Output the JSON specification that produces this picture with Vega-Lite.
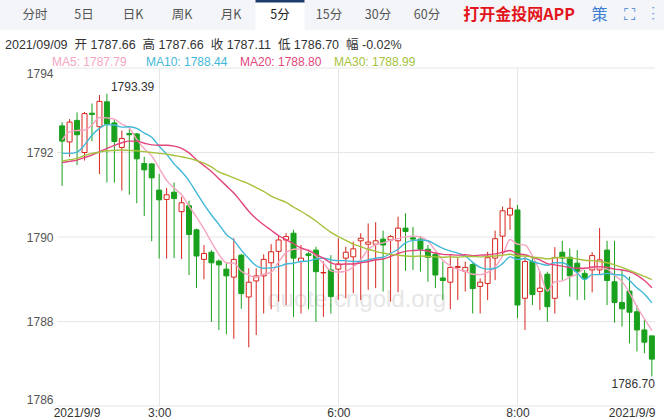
{
  "$schema": "https://vega.github.io/schema/vega-lite/v6.json",
  "padding": 0,
  "spacing": 8,
  "background": "#ffffff",
  "config": {"view": {"stroke": null}},
  "vconcat": [
    {
      "width": 664,
      "height": 30,
      "view": {"fill": "#f3f5f9", "stroke": null},
      "data": {"values": [
        {"t": "分时", "k": "tab"}, {"t": "5日", "k": "tab"}, {"t": "日K", "k": "tab"}, {"t": "周K", "k": "tab"},
        {"t": "月K", "k": "tab"}, {"t": "5分", "k": "sel"}, {"t": "15分", "k": "tab"}, {"t": "30分", "k": "tab"},
        {"t": "60分", "k": "tab"}, {"t": "打开金投网APP", "k": "app"}, {"t": "策\u3000⛶\u3000⋮", "k": "ico"}
      ]},
      "encoding": {"x": {"field": "t", "type": "nominal", "axis": null,
        "scale": {"type": "band", "domain": ["分时","5日","日K","周K","月K","5分","15分","30分","60分","_a","打开金投网APP","_b","策\u3000⛶\u3000⋮"], "paddingInner": 0, "paddingOuter": 0.2755, "align": 0.389}}},
      "layer": [
        {"transform": [{"filter": "datum.k == 'sel'"}], "mark": {"type": "rect", "fill": "#ffffff"}},
        {"transform": [{"filter": "datum.k == 'sel'"}], "mark": {"type": "rect", "fill": "#1c3c6c"},
         "encoding": {"y": {"datum": 27.5, "type": "quantitative", "scale": {"domain": [0, 30], "nice": false, "zero": false}, "axis": null}, "y2": {"datum": 30}}},
        {"transform": [{"filter": "datum.k == 'tab'"}], "mark": {"type": "text", "fontSize": 12.5, "color": "#555555", "font": "Noto Sans CJK SC"}, "encoding": {"text": {"field": "t"}}},
        {"transform": [{"filter": "datum.k == 'sel'"}], "mark": {"type": "text", "fontSize": 12.5, "color": "#222222", "font": "Noto Sans CJK SC"}, "encoding": {"text": {"field": "t"}}},
        {"transform": [{"filter": "datum.k == 'app'"}], "mark": {"type": "text", "fontSize": 16, "fontWeight": "bold", "color": "#e3151c", "font": "Noto Sans CJK SC", "dx": -6}, "encoding": {"text": {"field": "t"}}},
        {"transform": [{"filter": "datum.k == 'ico'"}], "mark": {"type": "text", "fontSize": 16, "color": "#3b7fd4", "font": "Noto Sans CJK SC", "dx": 0}, "encoding": {"text": {"field": "t"}}}
      ]
    },
    {
      "width": 660,
      "height": 338,
      "title": {"text": "2021/09/09\u00a0\u00a0开 1787.66\u00a0\u00a0高 1787.66\u00a0\u00a0收 1787.11\u00a0\u00a0低 1786.70\u00a0\u00a0幅 -0.02%", "anchor": "start", "fontSize": 12.5, "fontWeight": "normal", "color": "#333333", "font": "Liberation Sans, Noto Sans CJK SC, sans-serif", "offset": 16, "dx": 5},
      "data": {"values": [
        {"i":0,"o":1792.63,"h":1792.72,"l":1791.21,"c":1792.27,"MA5":1792.30,"MA10":1791.98,"MA20":1791.76,"MA30":1791.80},
        {"i":1,"o":1792.25,"h":1792.79,"l":1791.90,"c":1792.72,"MA5":1792.49,"MA10":1791.98,"MA20":1791.79,"MA30":1791.83},
        {"i":2,"o":1792.76,"h":1792.95,"l":1791.70,"c":1792.42,"MA5":1792.52,"MA10":1792.01,"MA20":1791.82,"MA30":1791.86},
        {"i":3,"o":1792.00,"h":1792.96,"l":1791.81,"c":1792.92,"MA5":1792.53,"MA10":1792.18,"MA20":1791.88,"MA30":1791.93},
        {"i":4,"o":1792.93,"h":1793.16,"l":1792.27,"c":1792.90,"MA5":1792.65,"MA10":1792.41,"MA20":1791.94,"MA30":1791.98},
        {"i":5,"o":1792.61,"h":1793.36,"l":1791.49,"c":1793.21,"MA5":1792.83,"MA10":1792.57,"MA20":1792.02,"MA30":1792.01},
        {"i":6,"o":1793.20,"h":1793.39,"l":1791.29,"c":1792.67,"MA5":1792.82,"MA10":1792.66,"MA20":1792.10,"MA30":1792.04},
        {"i":7,"o":1792.70,"h":1792.77,"l":1791.29,"c":1792.26,"MA5":1792.79,"MA10":1792.65,"MA20":1792.17,"MA30":1792.05},
        {"i":8,"o":1792.12,"h":1792.52,"l":1791.10,"c":1792.33,"MA5":1792.67,"MA10":1792.60,"MA20":1792.23,"MA30":1792.06},
        {"i":9,"o":1792.45,"h":1792.55,"l":1791.00,"c":1792.42,"MA5":1792.58,"MA10":1792.61,"MA20":1792.27,"MA30":1792.05},
        {"i":10,"o":1792.44,"h":1792.46,"l":1790.80,"c":1791.85,"MA5":1792.31,"MA10":1792.57,"MA20":1792.27,"MA30":1792.04},
        {"i":11,"o":1791.74,"h":1791.90,"l":1790.50,"c":1791.59,"MA5":1792.09,"MA10":1792.46,"MA20":1792.22,"MA30":1792.02},
        {"i":12,"o":1791.73,"h":1791.75,"l":1789.90,"c":1791.40,"MA5":1791.92,"MA10":1792.36,"MA20":1792.18,"MA30":1792.00},
        {"i":13,"o":1791.11,"h":1791.49,"l":1789.49,"c":1790.88,"MA5":1791.63,"MA10":1792.15,"MA20":1792.17,"MA30":1791.98},
        {"i":14,"o":1790.89,"h":1791.16,"l":1789.49,"c":1791.00,"MA5":1791.34,"MA10":1791.96,"MA20":1792.17,"MA30":1791.96},
        {"i":15,"o":1791.06,"h":1791.29,"l":1789.50,"c":1790.91,"MA5":1791.16,"MA10":1791.73,"MA20":1792.15,"MA30":1791.93},
        {"i":16,"o":1790.60,"h":1790.95,"l":1789.48,"c":1790.81,"MA5":1791.00,"MA10":1791.55,"MA20":1792.10,"MA30":1791.90},
        {"i":17,"o":1790.74,"h":1790.86,"l":1789.10,"c":1790.06,"MA5":1790.73,"MA10":1791.33,"MA20":1791.99,"MA30":1791.86},
        {"i":18,"o":1790.17,"h":1790.20,"l":1788.79,"c":1789.55,"MA5":1790.47,"MA10":1791.05,"MA20":1791.83,"MA30":1791.81},
        {"i":19,"o":1789.47,"h":1789.81,"l":1789.00,"c":1789.61,"MA5":1790.19,"MA10":1790.77,"MA20":1791.69,"MA30":1791.75},
        {"i":20,"o":1789.64,"h":1789.69,"l":1787.99,"c":1789.39,"MA5":1789.88,"MA10":1790.52,"MA20":1791.55,"MA30":1791.66},
        {"i":21,"o":1789.43,"h":1789.47,"l":1787.80,"c":1789.34,"MA5":1789.59,"MA10":1790.30,"MA20":1791.38,"MA30":1791.54},
        {"i":22,"o":1789.24,"h":1789.38,"l":1787.70,"c":1789.08,"MA5":1789.39,"MA10":1790.06,"MA20":1791.21,"MA30":1791.47},
        {"i":23,"o":1789.05,"h":1789.97,"l":1787.59,"c":1789.47,"MA5":1789.38,"MA10":1789.92,"MA20":1791.04,"MA30":1791.40},
        {"i":24,"o":1789.57,"h":1789.60,"l":1788.30,"c":1788.66,"MA5":1789.19,"MA10":1789.69,"MA20":1790.83,"MA30":1791.33},
        {"i":25,"o":1788.58,"h":1789.26,"l":1787.39,"c":1788.93,"MA5":1789.10,"MA10":1789.49,"MA20":1790.61,"MA30":1791.26},
        {"i":26,"o":1788.96,"h":1789.26,"l":1787.68,"c":1789.08,"MA5":1789.04,"MA10":1789.32,"MA20":1790.43,"MA30":1791.17},
        {"i":27,"o":1789.08,"h":1789.59,"l":1788.19,"c":1789.47,"MA5":1789.12,"MA10":1789.26,"MA20":1790.29,"MA30":1791.08},
        {"i":28,"o":1789.39,"h":1789.83,"l":1788.29,"c":1789.65,"MA5":1789.16,"MA10":1789.27,"MA20":1790.16,"MA30":1790.97},
        {"i":29,"o":1789.66,"h":1790.05,"l":1788.47,"c":1789.93,"MA5":1789.41,"MA10":1789.30,"MA20":1790.03,"MA30":1790.89},
        {"i":30,"o":1789.93,"h":1790.09,"l":1788.39,"c":1790.01,"MA5":1789.63,"MA10":1789.36,"MA20":1789.94,"MA30":1790.82},
        {"i":31,"o":1790.09,"h":1790.17,"l":1788.11,"c":1789.50,"MA5":1789.71,"MA10":1789.38,"MA20":1789.84,"MA30":1790.71},
        {"i":32,"o":1789.42,"h":1789.81,"l":1788.19,"c":1789.50,"MA5":1789.72,"MA10":1789.42,"MA20":1789.74,"MA30":1790.61},
        {"i":33,"o":1789.60,"h":1789.65,"l":1788.29,"c":1789.56,"MA5":1789.70,"MA10":1789.43,"MA20":1789.68,"MA30":1790.50},
        {"i":34,"o":1789.69,"h":1789.77,"l":1787.99,"c":1789.18,"MA5":1789.55,"MA10":1789.48,"MA20":1789.59,"MA30":1790.38},
        {"i":35,"o":1789.15,"h":1789.42,"l":1788.11,"c":1789.16,"MA5":1789.38,"MA10":1789.50,"MA20":1789.50,"MA30":1790.24},
        {"i":36,"o":1789.22,"h":1789.57,"l":1788.19,"c":1788.59,"MA5":1789.20,"MA10":1789.46,"MA20":1789.39,"MA30":1790.11},
        {"i":37,"o":1789.24,"h":1789.97,"l":1788.51,"c":1789.36,"MA5":1789.17,"MA10":1789.44,"MA20":1789.35,"MA30":1790.01},
        {"i":38,"o":1789.50,"h":1789.77,"l":1788.55,"c":1789.64,"MA5":1789.19,"MA10":1789.44,"MA20":1789.36,"MA30":1789.92},
        {"i":39,"o":1789.53,"h":1789.89,"l":1788.67,"c":1789.72,"MA5":1789.29,"MA10":1789.42,"MA20":1789.36,"MA30":1789.83},
        {"i":40,"o":1789.91,"h":1790.09,"l":1788.51,"c":1789.97,"MA5":1789.46,"MA10":1789.42,"MA20":1789.39,"MA30":1789.77},
        {"i":41,"o":1789.83,"h":1790.32,"l":1788.75,"c":1789.88,"MA5":1789.71,"MA10":1789.46,"MA20":1789.42,"MA30":1789.71},
        {"i":42,"o":1789.83,"h":1790.35,"l":1788.79,"c":1789.91,"MA5":1789.82,"MA10":1789.50,"MA20":1789.46,"MA30":1789.66},
        {"i":43,"o":1789.95,"h":1790.15,"l":1788.71,"c":1789.81,"MA5":1789.86,"MA10":1789.52,"MA20":1789.48,"MA30":1789.62},
        {"i":44,"o":1789.93,"h":1790.05,"l":1788.47,"c":1790.01,"MA5":1789.92,"MA10":1789.61,"MA20":1789.54,"MA30":1789.59},
        {"i":45,"o":1789.91,"h":1790.48,"l":1788.69,"c":1790.21,"MA5":1789.96,"MA10":1789.71,"MA20":1789.61,"MA30":1789.57},
        {"i":46,"o":1790.21,"h":1790.56,"l":1789.20,"c":1790.13,"MA5":1790.01,"MA10":1789.86,"MA20":1789.66,"MA30":1789.55},
        {"i":47,"o":1789.98,"h":1790.24,"l":1789.22,"c":1789.95,"MA5":1790.02,"MA10":1789.92,"MA20":1789.68,"MA30":1789.54},
        {"i":48,"o":1789.95,"h":1790.02,"l":1789.18,"c":1789.71,"MA5":1790.00,"MA10":1789.93,"MA20":1789.69,"MA30":1789.55},
        {"i":49,"o":1789.71,"h":1789.81,"l":1788.94,"c":1789.52,"MA5":1789.90,"MA10":1789.91,"MA20":1789.67,"MA30":1789.54},
        {"i":50,"o":1789.59,"h":1789.61,"l":1788.79,"c":1789.10,"MA5":1789.68,"MA10":1789.82,"MA20":1789.62,"MA30":1789.53},
        {"i":51,"o":1789.03,"h":1789.42,"l":1788.51,"c":1788.97,"MA5":1789.45,"MA10":1789.73,"MA20":1789.59,"MA30":1789.52},
        {"i":52,"o":1788.93,"h":1789.57,"l":1788.29,"c":1789.28,"MA5":1789.32,"MA10":1789.67,"MA20":1789.58,"MA30":1789.53},
        {"i":53,"o":1789.28,"h":1789.50,"l":1788.51,"c":1789.30,"MA5":1789.23,"MA10":1789.62,"MA20":1789.57,"MA30":1789.52},
        {"i":54,"o":1789.19,"h":1789.42,"l":1788.71,"c":1789.28,"MA5":1789.19,"MA10":1789.55,"MA20":1789.58,"MA30":1789.54},
        {"i":55,"o":1789.35,"h":1789.38,"l":1788.19,"c":1788.78,"MA5":1789.12,"MA10":1789.40,"MA20":1789.56,"MA30":1789.54},
        {"i":56,"o":1788.83,"h":1789.02,"l":1788.19,"c":1788.93,"MA5":1789.11,"MA10":1789.28,"MA20":1789.57,"MA30":1789.53},
        {"i":57,"o":1788.90,"h":1789.65,"l":1788.51,"c":1789.51,"MA5":1789.16,"MA10":1789.24,"MA20":1789.58,"MA30":1789.54},
        {"i":58,"o":1789.50,"h":1790.15,"l":1788.98,"c":1789.96,"MA5":1789.29,"MA10":1789.26,"MA20":1789.60,"MA30":1789.55},
        {"i":59,"o":1790.02,"h":1790.72,"l":1789.53,"c":1790.62,"MA5":1789.56,"MA10":1789.37,"MA20":1789.64,"MA30":1789.57},
        {"i":60,"o":1790.52,"h":1790.92,"l":1790.17,"c":1790.68,"MA5":1789.94,"MA10":1789.53,"MA20":1789.68,"MA30":1789.59},
        {"i":61,"o":1790.64,"h":1790.76,"l":1788.08,"c":1788.39,"MA5":1789.83,"MA10":1789.47,"MA20":1789.60,"MA30":1789.55},
        {"i":62,"o":1788.55,"h":1789.53,"l":1787.80,"c":1789.42,"MA5":1789.81,"MA10":1789.49,"MA20":1789.58,"MA30":1789.55},
        {"i":63,"o":1789.42,"h":1789.50,"l":1788.39,"c":1788.64,"MA5":1789.55,"MA10":1789.42,"MA20":1789.52,"MA30":1789.52},
        {"i":64,"o":1788.71,"h":1789.18,"l":1788.27,"c":1788.79,"MA5":1789.18,"MA10":1789.37,"MA20":1789.46,"MA30":1789.51},
        {"i":65,"o":1789.12,"h":1789.18,"l":1787.99,"c":1788.35,"MA5":1788.72,"MA10":1789.33,"MA20":1789.37,"MA30":1789.48},
        {"i":66,"o":1788.55,"h":1789.76,"l":1788.19,"c":1789.51,"MA5":1788.94,"MA10":1789.39,"MA20":1789.34,"MA30":1789.51},
        {"i":67,"o":1789.64,"h":1789.91,"l":1788.98,"c":1789.50,"MA5":1788.96,"MA10":1789.39,"MA20":1789.31,"MA30":1789.52},
        {"i":68,"o":1789.52,"h":1789.73,"l":1788.59,"c":1789.08,"MA5":1789.05,"MA10":1789.30,"MA20":1789.28,"MA30":1789.50},
        {"i":69,"o":1789.38,"h":1789.69,"l":1788.51,"c":1789.18,"MA5":1789.12,"MA10":1789.15,"MA20":1789.26,"MA30":1789.48},
        {"i":70,"o":1789.14,"h":1789.22,"l":1788.51,"c":1789.02,"MA5":1789.26,"MA10":1788.99,"MA20":1789.26,"MA30":1789.45},
        {"i":71,"o":1789.22,"h":1789.64,"l":1788.69,"c":1789.56,"MA5":1789.27,"MA10":1789.11,"MA20":1789.29,"MA30":1789.44},
        {"i":72,"o":1789.22,"h":1790.21,"l":1789.10,"c":1789.46,"MA5":1789.26,"MA10":1789.11,"MA20":1789.30,"MA30":1789.42},
        {"i":73,"o":1789.69,"h":1789.91,"l":1788.39,"c":1788.97,"MA5":1789.24,"MA10":1789.14,"MA20":1789.28,"MA30":1789.39},
        {"i":74,"o":1788.94,"h":1789.91,"l":1787.97,"c":1788.45,"MA5":1789.09,"MA10":1789.11,"MA20":1789.24,"MA30":1789.34},
        {"i":75,"o":1788.45,"h":1789.22,"l":1787.88,"c":1788.30,"MA5":1788.95,"MA10":1789.10,"MA20":1789.22,"MA30":1789.28},
        {"i":76,"o":1788.72,"h":1789.06,"l":1787.48,"c":1788.22,"MA5":1788.68,"MA10":1788.97,"MA20":1789.18,"MA30":1789.21},
        {"i":77,"o":1788.23,"h":1788.39,"l":1787.29,"c":1787.80,"MA5":1788.35,"MA10":1788.80,"MA20":1789.10,"MA30":1789.14},
        {"i":78,"o":1787.80,"h":1788.04,"l":1787.25,"c":1787.51,"MA5":1788.06,"MA10":1788.65,"MA20":1788.97,"MA30":1789.07},
        {"i":79,"o":1787.66,"h":1787.66,"l":1786.70,"c":1787.11,"MA5":1787.79,"MA10":1788.44,"MA20":1788.80,"MA30":1788.99}
      ]},
      "layer": [
        {
          "data": {"values": [{"w": "quote.cngold.org"}]},
          "mark": {"type": "text", "fontSize": 24, "color": "#e6e6e6", "font": "Liberation Sans"},
          "encoding": {
            "x": {"datum": 39.45, "type": "quantitative", "scale": {"domain": [-7.652, 79.42], "nice": false, "zero": false}},
            "y": {"datum": 1788.51, "type": "quantitative", "scale": {"domain": [1786, 1794], "nice": false, "zero": false}},
            "text": {"field": "w"}
          }
        },
        {
          "data": {"values": [{"g": 1786}, {"g": 1788}, {"g": 1790}, {"g": 1792}, {"g": 1794}]},
          "mark": {"type": "rule", "color": "#e6e6e6", "strokeWidth": 1},
          "encoding": {
            "y": {"field": "g", "type": "quantitative", "scale": {"domain": [1786, 1794], "nice": false, "zero": false},
              "axis": {"values": [1786, 1788, 1790, 1792, 1794], "format": "d", "offset": -55, "labelPadding": 2, "ticks": false, "domain": false, "grid": false, "labelFlush": true, "labelFontSize": 12, "labelColor": "#555555", "labelFont": "Liberation Sans", "title": null}},
            "x": {"datum": -0.66, "type": "quantitative", "scale": {"domain": [-7.652, 79.42], "nice": false, "zero": false}},
            "x2": {"datum": 79.42}
          }
        },
        {
          "mark": {"type": "rule", "strokeWidth": 1},
          "encoding": {
            "x": {"field": "i", "type": "quantitative", "scale": {"domain": [-7.652, 79.42], "nice": false, "zero": false},
              "axis": {"values": [-1.2, 13, 37, 61, 79.42],
                "labelExpr": "datum.value < 0 || datum.value > 79 ? '2021/9/9' : datum.value == 13 ? '3:00' : datum.value == 37 ? '6:00' : '8:00'",
                "labelFlush": 60, "labelOverlap": false, "grid": true, "gridColor": "#e6e6e6",
                "gridOpacity": {"condition": {"test": "datum.value < 0 || datum.value > 79", "value": 0}, "value": 1},
                "ticks": false, "domain": false, "labelPadding": 1, "labelFontSize": 12, "labelColor": "#333333", "labelFont": "Liberation Sans", "title": null}},
            "y": {"field": "l", "type": "quantitative", "scale": {"domain": [1786, 1794], "nice": false, "zero": false}},
            "y2": {"field": "h"},
            "stroke": {"condition": {"test": "datum.c >= datum.o", "value": "#d7261e"}, "value": "#19a11d"}
          }
        },
        {
          "mark": {"type": "bar", "width": 5, "strokeWidth": 1},
          "encoding": {
            "x": {"field": "i", "type": "quantitative"},
            "y": {"field": "o", "type": "quantitative"},
            "y2": {"field": "c"},
            "fill": {"condition": {"test": "datum.c >= datum.o", "value": "#ffffff"}, "value": "#19a11d"},
            "stroke": {"condition": {"test": "datum.c >= datum.o", "value": "#d7261e"}, "value": "#19a11d"}
          }
        },
        {
          "transform": [{"fold": ["MA5", "MA10", "MA20", "MA30"], "as": ["s", "v"]}],
          "mark": {"type": "line", "strokeWidth": 1.4, "interpolate": "monotone"},
          "encoding": {
            "x": {"field": "i", "type": "quantitative"},
            "y": {"field": "v", "type": "quantitative"},
            "color": {"field": "s", "type": "nominal",
              "scale": {"domain": ["MA5", "MA10", "MA20", "MA30"], "range": ["#f6a5c2", "#42b8d8", "#e2467d", "#a6c23c"]},
              "legend": {"title": null, "orient": "none", "legendX": 40, "legendY": 56, "direction": "horizontal", "columns": 4, "gridAlign": "all", "columnPadding": -3,
                "symbolSize": 1, "symbolStrokeWidth": 0, "symbolOpacity": 0, "symbolType": "circle", "labelOffset": 0, "labelFontSize": 12, "labelFont": "Liberation Sans", "padding": 0,
                "labelExpr": "datum.label == 'MA5' ? 'MA5: 1787.79' : datum.label == 'MA10' ? 'MA10: 1788.44' : datum.label == 'MA20' ? 'MA20: 1788.80' : 'MA30: 1788.99'",
                "encode": {"labels": {"update": {"fill": {"scale": "color", "field": "value"}}}}}
            }
          }
        },
        {
          "transform": [{"filter": "datum.i == 6"}],
          "mark": {"type": "text", "align": "left", "baseline": "middle", "dx": 4, "dy": -7, "fontSize": 12, "color": "#333333", "font": "Liberation Sans"},
          "encoding": {"x": {"field": "i", "type": "quantitative"}, "y": {"field": "h", "type": "quantitative"}, "text": {"field": "h", "format": ".2f"}}
        },
        {
          "transform": [{"filter": "datum.i == 79"}],
          "mark": {"type": "text", "align": "right", "baseline": "middle", "dx": 3, "dy": 8, "fontSize": 12, "color": "#333333", "font": "Liberation Sans"},
          "encoding": {"x": {"field": "i", "type": "quantitative"}, "y": {"field": "l", "type": "quantitative"}, "text": {"field": "l", "format": ".2f"}}
        }
      ]
    }
  ]
}
